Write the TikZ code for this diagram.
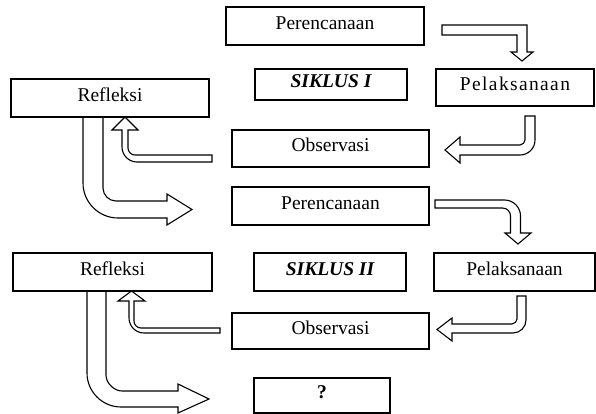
\documentclass[tikz,border=0pt]{standalone}
\usepackage{fontspec}
\setmainfont{Liberation Serif}
\begin{document}
\begin{tikzpicture}[x=1pt,y=-1pt,
  box/.style={draw, line width=1.3pt, fill=white, inner sep=0pt,
    text height=0.66em, text depth=0pt,
    font=\fontsize{19.5}{22}\selectfont},
  blk/.style={draw, fill=white, line width=1.1pt, line join=miter}]
\useasboundingbox (0,0) rectangle (596,414);
% block arrows
\draw[blk] (442,25) -- (527,25) -- (527,52) -- (533,52) -- (522,61) -- (511,52) -- (517,52) -- (517,35) -- (442,35) -- cycle;
\draw[blk] (525,116) -- (535,116) -- (535,140) .. controls (535,148.3) and (528.3,155) .. (520,155) -- (460,155) -- (460,163) -- (445,150) -- (460,137) -- (460,145) -- (520,145) .. controls (522.75,145) and (525,142.25) .. (525,140) -- cycle;
\draw[blk] (212,155) -- (135,155) .. controls (131.15,155) and (128,151.85) .. (128,148) -- (128,130) -- (138,130) -- (125,117) -- (112,130) -- (122,130) -- (122,147) .. controls (122,155.25) and (128.75,162) .. (137,162) -- (212,162) -- cycle;
\draw[blk] (83,117) -- (83,183) .. controls (83,202.25) and (98.75,218) .. (118,218) -- (167,218) -- (167,225) -- (192,209.5) -- (167,194) -- (167,201) -- (116,201) .. controls (108.85,201) and (103,195.15) .. (103,188) -- (103,117) -- cycle;
\draw[blk] (435,200) -- (504.5,200) .. controls (513.3,200) and (520.5,207.2) .. (520.5,216) -- (520.5,233) -- (531,233) -- (518,244) -- (505,233) -- (510.5,233) -- (510.5,216) .. controls (510.5,211.6) and (506.9,208) .. (502.5,208) -- (435,208) -- cycle;
\draw[blk] (517,296) -- (526,296) -- (526,320) .. controls (526,327.15) and (520.15,333) .. (513,333) -- (452,333) -- (452,341) -- (437,329.5) -- (452,318) -- (452,324) -- (512,324) .. controls (514.75,324) and (517,321.25) .. (517,319) -- cycle;
\draw[blk] (220,328) -- (141,328) .. controls (137.15,328) and (134,324.85) .. (134,321) -- (134,301) -- (145,301) -- (131.5,291) -- (118,301) -- (129,301) -- (129,318) .. controls (129,326.25) and (135.75,333) .. (144,333) -- (220,333) -- cycle;
\draw[blk] (87,291) -- (87,373) .. controls (87,391.7) and (102.3,407) .. (121,407) -- (178,407) -- (178,413) -- (209,399) -- (178,384) -- (178,391) -- (122,391) .. controls (114.8,391) and (106,383.8) .. (106,375) -- (106,291) -- cycle;
% boxes
\node[box, minimum width=198pt, minimum height=38pt] (per1) at (325,26) {Perencanaan};
\node[box, minimum width=152pt, minimum height=31pt] (sik1) at (331,84.5) {\bfseries\itshape SIKLUS I};
\node[box, minimum width=158pt, minimum height=37pt] (pel1) at (515,87.5) {\addfontfeature{LetterSpace=7}Pelaksanaan};
\node[box, minimum width=198pt, minimum height=38pt] (ref1) at (110,98) {Refleksi};
\node[box, minimum width=197pt, minimum height=37pt] (obs1) at (330.5,148.5) {Observasi};
\node[box, minimum width=197pt, minimum height=38pt] (per2) at (330.5,206) {Perencanaan};
\node[box, minimum width=199pt, minimum height=38pt] (ref2) at (112.5,272) {Refleksi};
\node[box, minimum width=152pt, minimum height=38pt] (sik2) at (330,272) {\bfseries\itshape SIKLUS II};
\node[box, minimum width=161pt, minimum height=38pt] (pel2) at (514.5,272) {Pelaksanaan};
\node[box, minimum width=197pt, minimum height=36pt] (obs2) at (330.5,331) {Observasi};
\node[box, minimum width=136pt, minimum height=35pt] (q) at (322,395.5) {\bfseries ?};
\end{tikzpicture}
\end{document}
